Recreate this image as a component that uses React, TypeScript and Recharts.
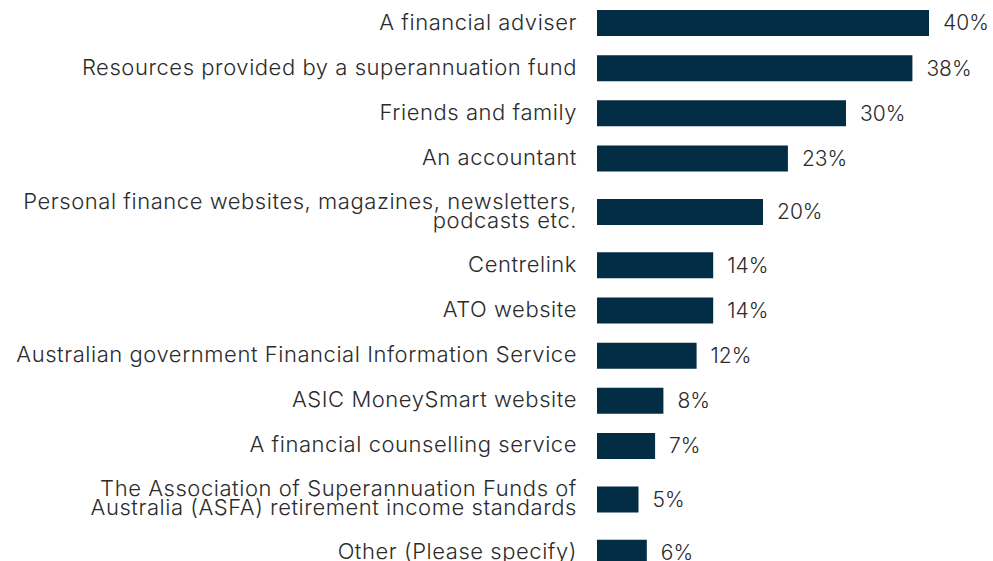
import { BarChart, Bar, XAxis, YAxis, LabelList } from 'recharts';

// Where do retirees go for retirement information (share of respondents, %)
const categories = [
  'A financial adviser',
  'Resources provided by a superannuation fund',
  'Friends and family',
  'An accountant',
  'Personal finance websites, magazines, newsletters,\npodcasts etc.',
  'Centrelink',
  'ATO website',
  'Australian government Financial Information Service',
  'ASIC MoneySmart website',
  'A financial counselling service',
  'The Association of Superannuation Funds of\nAustralia (ASFA) retirement income standards',
  'Other (Please specify)',
];

const shares = [40, 38, 30, 23, 20, 14, 14, 12, 8, 7, 5, 6];

const FONT = 'Inter, "Noto Sans", sans-serif';
const TEXT = '#2b2b2b';
const BAR = '#032c45';
// wrapped labels get a taller row
const ROW_EXTRA = 0.37;

const spans = categories.map((c) => 1 + ROW_EXTRA * (c.split('\n').length - 1));
let acc = 0;
const data = categories.map((label, i) => {
  const pos = acc + spans[i] / 2;
  acc += spans[i];
  return { label, value: shares[i], pos };
});
const totalSpan = acc;

function CategoryTick(props: any) {
  const { x, y, payload } = props;
  const row = data.find((d) => Math.abs(d.pos - payload.value) < 1e-6);
  const lines = row ? row.label.split('\n') : [];
  const lh = 19;
  const startY = y + 7 - ((lines.length - 1) * lh) / 2;
  return (
    <text
      x={x}
      y={startY}
      textAnchor="end"
      fill={TEXT}
      fontSize={22}
      fontWeight={300}
      letterSpacing={0.55}
      fontFamily={FONT}
    >
      {lines.map((l, i) => (
        <tspan key={i} x={x} dy={i === 0 ? 0 : lh}>
          {l}
        </tspan>
      ))}
    </text>
  );
}

export default function App() {
  return (
    <div style={{ position: 'absolute', left: 0, top: 0, width: 993, height: 561, overflow: 'hidden', background: '#fff' }}>
      <BarChart
        layout="vertical"
        width={993}
        height={575}
        data={data}
        margin={{ top: 0, right: 64, left: 0, bottom: 0 }}
      >
        <XAxis type="number" domain={[0, 40]} hide />
        <YAxis
          type="number"
          dataKey="pos"
          domain={[0, totalSpan]}
          ticks={data.map((d) => d.pos)}
          interval={0}
          width={597}
          axisLine={false}
          tickLine={false}
          tickSize={0}
          tickMargin={20}
          tick={<CategoryTick />}
        />
        <Bar dataKey="value" fill={BAR} barSize={26} isAnimationActive={false}>
          <LabelList
            dataKey="value"
            position="right"
            offset={14}
            formatter={(v: any) => `${v}%`}
            fill={TEXT}
            fontSize={21}
            fontWeight={300}
            fontFamily={FONT}
          />
        </Bar>
      </BarChart>
    </div>
  );
}
